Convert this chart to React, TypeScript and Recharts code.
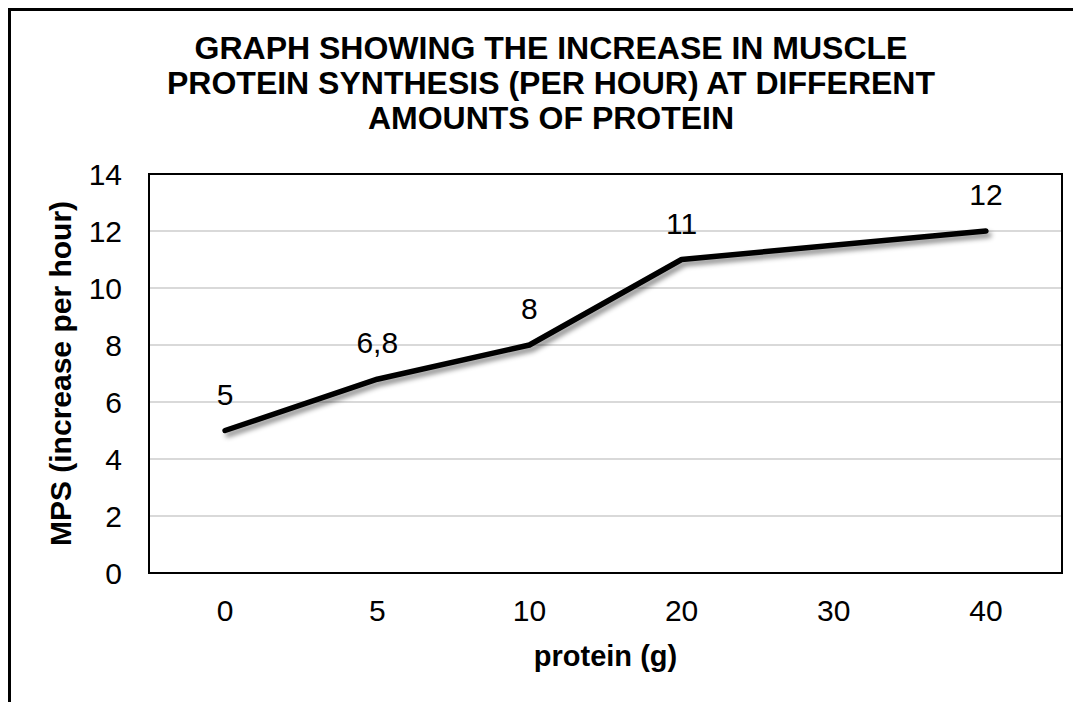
import { LineChart, Line, XAxis, YAxis, CartesianGrid, LabelList, Label } from "recharts";

const proteinGrams = ["0", "5", "10", "20", "30", "40"];
const mpsValues: Array<number | null> = [5, 6.8, 8, 11, null, 12];
const yTicks = [0, 2, 4, 6, 8, 10, 12, 14];

const chartData = proteinGrams.map((g, i) => ({ protein: g, mps: mpsValues[i] }));

const FONT = '"Liberation Sans", Arial, sans-serif';

// 6.8 -> "6,8" like the original
const formatLabel = (v: unknown) => (v == null ? "" : String(v).replace(".", ","));

export default function App() {
  return (
    <div style={{ position: "relative", width: 1073, height: 694, fontFamily: FONT }}>
      <div
        style={{
          position: "absolute",
          left: 0,
          top: 0,
          width: 1090,
          height: 700,
          borderTop: "3px solid #000",
          borderLeft: "3px solid #000",
          boxSizing: "border-box",
        }}
      />
      <div
        style={{
          position: "absolute",
          left: 13,
          top: 23,
          width: 1060,
          textAlign: "center",
          fontWeight: 700,
          fontSize: 32,
          lineHeight: "35px",
          color: "#000",
          whiteSpace: "nowrap",
        }}
      >
        GRAPH SHOWING THE INCREASE IN MUSCLE
        <br />
        PROTEIN SYNTHESIS (PER HOUR) AT DIFFERENT
        <br />
        AMOUNTS OF PROTEIN
      </div>
      <div style={{ position: "absolute", left: 0, top: 0 }}>
        <LineChart
          width={1073}
          height={694}
          data={chartData}
          margin={{ top: 166, right: 19, left: 11, bottom: 29 }}
        >
          <defs>
            <filter id="lineShadow" x="-10%" y="-20%" width="130%" height="150%">
              <feDropShadow dx="3" dy="4" stdDeviation="2.5" floodColor="#000" floodOpacity="0.45" />
            </filter>
          </defs>
          <CartesianGrid vertical={false} stroke="#d9d9d9" strokeWidth={2} />
          <XAxis
            dataKey="protein"
            scale="band"
            height={100}
            axisLine={false}
            tickLine={false}
            tickSize={0}
            tickMargin={27}
            tick={{ fill: "#000", fontSize: 30, fontFamily: FONT }}
          >
            <Label
              value="protein (g)"
              position="insideBottom"
              offset={7}
              style={{ fill: "#000", fontSize: 29, fontWeight: 700, fontFamily: FONT }}
            />
          </XAxis>
          <YAxis
            width={130}
            domain={[0, 14]}
            ticks={yTicks}
            interval={0}
            axisLine={false}
            tickLine={false}
            tickSize={0}
            tickMargin={27}
            tick={{ fill: "#000", fontSize: 30, fontFamily: FONT }}
          >
            <Label
              value="MPS (increase per hour)"
              angle={-90}
              position="center"
              dx={-24}
              style={{ fill: "#000", fontSize: 30, fontWeight: 700, fontFamily: FONT, textAnchor: "middle" }}
            />
          </YAxis>
          <Line
            type="linear"
            dataKey="mps"
            stroke="#000"
            strokeWidth={5.5}
            strokeLinecap="round"
            strokeLinejoin="round"
            dot={false}
            activeDot={false}
            connectNulls
            filter="url(#lineShadow)"
            isAnimationActive={false}
          >
            <LabelList
              dataKey="mps"
              position="top"
              offset={26}
              formatter={formatLabel}
              style={{ fill: "#000", fontSize: 30, fontFamily: FONT, filter: "none" }}
            />
          </Line>
        </LineChart>
      </div>
      {/* plot-area frame */}
      <div
        style={{
          position: "absolute",
          left: 140,
          top: 165,
          width: 915,
          height: 401,
          border: "2.5px solid #000",
          boxSizing: "border-box",
          pointerEvents: "none",
        }}
      />
    </div>
  );
}
